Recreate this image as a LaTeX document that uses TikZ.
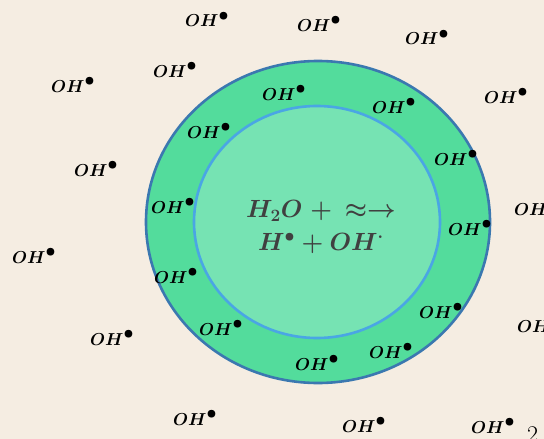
\documentclass[tikz,border=0pt]{standalone}
\usepackage{amsmath,amssymb,bm}
\usepackage{xcolor}
\usepackage{tikz}
\definecolor{PaperBeige}{RGB}{245, 237, 226}
\definecolor{ShellGreen}{RGB}{83, 220, 156}
\definecolor{CoreGreen}{RGB}{118, 227, 179}
\definecolor{ShellBlue}{RGB}{59, 120, 176}
\definecolor{CoreBlue}{RGB}{74, 166, 228}
\definecolor{EqGray}{RGB}{64, 64, 64}

\begin{document}
\begin{tikzpicture}[x=1pt, y=-1pt,
  rad/.style={anchor=base west, inner sep=0pt, text=black,
              font=\fontsize{18}{20}\selectfont\boldmath},
  eqn/.style={align=center, inner sep=0pt, text=EqGray,
              font=\fontsize{26}{33}\selectfont\boldmath}]
  \fill[PaperBeige] (0,0) rectangle (544,439);
  \useasboundingbox (0,0) rectangle (544,439);
  % track and core
  \draw[line width=2.6pt, draw=ShellBlue, fill=ShellGreen] (318,222) ellipse [x radius=172, y radius=161];
  \draw[line width=2.6pt, draw=CoreBlue, fill=CoreGreen] (317,222) ellipse [x radius=123, y radius=116];
  \node[eqn] (eq) at (321,227) {$H_2O\;{+}\;\,{\approx}{\rightarrow}$\\$H^{\bullet} + OH^{\cdot}$};
  % hydroxyl radicals
  \foreach \x/\y [count=\i] in {185/27, 153/77, 51/92, 187/138, 74/176, 151/213,
      297/31, 405/45, 262/100, 372/113, 484/103, 434/165, 514/215, 448/235,
      12/263, 154/283, 90/345, 199/335, 173/425,
      419/318, 517/332, 369/358, 295/370, 342/432, 471/433}
    \node[rad] (oh\i) at (\x,\y) {$OH^{\textstyle\bullet}$};
  \node[anchor=north west, inner sep=0pt, font=\fontsize{24}{26}\selectfont] (pg) at (527,426) {2};
\end{tikzpicture}
\end{document}
